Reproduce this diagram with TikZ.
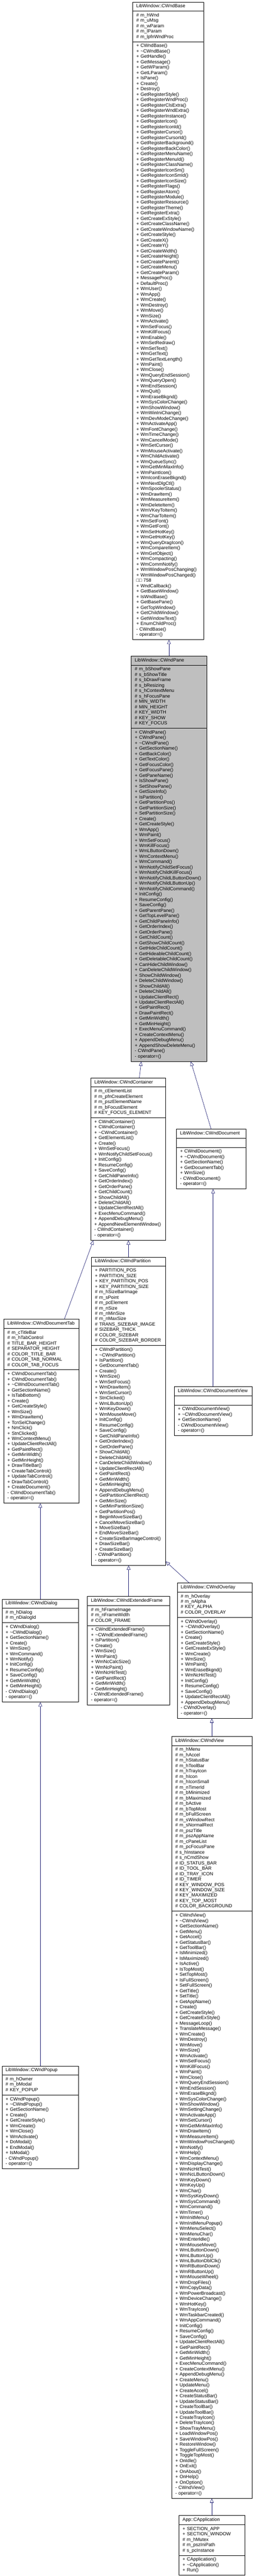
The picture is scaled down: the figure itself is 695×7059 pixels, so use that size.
\documentclass[tikz,border=0pt]{standalone}
\usepackage{fontspec}
\setmainfont{Liberation Sans}
\usetikzlibrary{shapes.multipart, arrows.meta, positioning}

\definecolor{edgeblue}{RGB}{25,25,112}
\definecolor{focusgray}{RGB}{191,191,191}

\tikzset{
  classbox/.style={rectangle split, rectangle split parts=3, draw=black, fill=white,
    anchor=west, align=left, inner xsep=10pt, inner ysep=4.6pt,
    font=\fontsize{12.8}{14.8}\selectfont, line width=0.9pt},
  focusbox/.style={classbox, fill=focusgray},
  inherit/.style={draw=edgeblue, line width=0.9pt, -{Triangle[open, length=12pt, width=10pt]}}
}

\begin{document}
\begin{tikzpicture}[x=1pt, y=-1pt]
  \useasboundingbox (0,0) rectangle (695,7059);

  % rank 1
  \node[classbox, text width=174pt] (base) at (363,879) {\centering\strut LibWindow::CWndBase\strut
    \nodepart{second}\strut\# m\_hWnd\\\# m\_uMsg\\\# m\_wParam\\\# m\_lParam\\\# m\_lpfnWndProc\strut
    \nodepart{third}\strut+ CWndBase()\\+ \textasciitilde CWndBase()\\+ GetHandle()\\+ GetMessage()\\+ GetWParam()\\+ GetLParam()\\+ IsPane()\\+ Create()\\+ Destroy()\\%
+ GetRegisterStyle()\\+ GetRegisterWndProc()\\+ GetRegisterClsExtra()\\+ GetRegisterWndExtra()\\+ GetRegisterInstance()\\+ GetRegisterIcon()\\+ GetRegisterIconId()\\+ GetRegisterCursor()\\+ GetRegisterCursorId()\\+ GetRegisterBackground()\\+ GetRegisterBackColor()\\+ GetRegisterMenuName()\\+ GetRegisterMenuId()\\+ GetRegisterClassName()\\+ GetRegisterIconSm()\\+ GetRegisterIconSmId()\\+ GetRegisterIconSize()\\+ GetRegisterFlags()\\+ GetRegisterAtom()\\+ GetRegisterModule()\\+ GetRegisterResource()\\+ GetRegisterTheme()\\+ GetRegisterExtra()\\%
+ GetCreateExStyle()\\+ GetCreateClassName()\\+ GetCreateWindowName()\\+ GetCreateStyle()\\+ GetCreateX()\\+ GetCreateY()\\+ GetCreateWidth()\\+ GetCreateHeight()\\+ GetCreateParent()\\+ GetCreateMenu()\\+ GetCreateParam()\\%
+ MessageProc()\\+ DefaultProc()\\+ WmUser()\\+ WmApp()\\+ WmCreate()\\+ WmDestroy()\\+ WmMove()\\+ WmSize()\\+ WmActivate()\\+ WmSetFocus()\\+ WmKillFocus()\\+ WmEnable()\\+ WmSetRedraw()\\+ WmSetText()\\+ WmGetText()\\+ WmGetTextLength()\\+ WmPaint()\\+ WmClose()\\+ WmQueryEndSession()\\+ WmQueryOpen()\\+ WmEndSession()\\+ WmQuit()\\+ WmEraseBkgnd()\\+ WmSysColorChange()\\+ WmShowWindow()\\+ WmWinIniChange()\\+ WmDevModeChange()\\+ WmActivateApp()\\+ WmFontChange()\\+ WmTimeChange()\\+ WmCancelMode()\\+ WmSetCursor()\\+ WmMouseActivate()\\+ WmChildActivate()\\%
+ WmQueueSync()\\+ WmGetMinMaxInfo()\\+ WmPaintIcon()\\+ WmIconEraseBkgnd()\\+ WmNextDlgCtl()\\+ WmSpoolerStatus()\\+ WmDrawItem()\\+ WmMeasureItem()\\+ WmDeleteItem()\\+ WmVKeyToItem()\\+ WmCharToItem()\\+ WmSetFont()\\+ WmGetFont()\\+ WmSetHotKey()\\+ WmGetHotKey()\\+ WmQueryDragIcon()\\+ WmCompareItem()\\+ WmGetObject()\\+ WmCompacting()\\+ WmCommNotify()\\+ WmWindowPosChanging()\\+ WmWindowPosChanged()\\%
□□ 758\\+ WndCallback()\\+ GetBaseWindow()\\+ IsWndBase()\\+ GetBasePane()\\+ GetTopWindow()\\+ GetChildWindow()\\+ GetWindowText()\\+ EnumChildProc()\\- CWndBase()\\- operator=()\strut};

  % rank 2: the class of this page
  \node[focusbox, text width=187pt] (pane) at (359,2353) {\centering\strut LibWindow::CWndPane\strut
    \nodepart{second}\strut\# m\_bShowPane\\\# s\_bShowTitle\\\# s\_bDrawFrame\\\# s\_bResizing\\\# s\_hContextMenu\\\# s\_hFocusPane\\\# MIN\_WIDTH\\\# MIN\_HEIGHT\\\# KEY\_WIDTH\\\# KEY\_SHOW\\\# KEY\_FOCUS\strut
    \nodepart{third}\strut+ CWndPane()\\+ CWndPane()\\+ \textasciitilde CWndPane()\\+ GetSectionName()\\+ GetBackColor()\\+ GetTextColor()\\+ GetFocusColor()\\+ GetFocusPane()\\+ GetPaneName()\\+ IsShowPane()\\+ SetShowPane()\\+ GetSizeInfo()\\+ IsPartition()\\+ GetPartitionPos()\\+ GetPartitionSize()\\+ SetPartitionSize()\\+ Create()\\+ GetCreateStyle()\\+ WmApp()\\+ WmPaint()\\%
+ WmSetFocus()\\+ WmKillFocus()\\+ WmLButtonDown()\\+ WmContextMenu()\\+ WmCommand()\\+ WmNotifyChildSetFocus()\\+ WmNotifyChildKillFocus()\\+ WmNotifyChildLButtonDown()\\+ WmNotifyChildLButtonUp()\\+ WmNotifyChildCommand()\\+ InitConfig()\\+ ResumeConfig()\\+ SaveConfig()\\+ GetParentPane()\\+ GetTopLevelPane()\\+ GetChildPaneInfo()\\+ GetOrderIndex()\\+ GetOrderPane()\\+ GetChildCount()\\+ GetShowChildCount()\\+ GetHideChildCount()\\+ GetHideableChildCount()\\+ GetDeletableChildCount()\\+ CanHideChildWindow()\\+ CanDeleteChildWindow()\\+ ShowChildWindow()\\+ DeleteChildWindow()\\+ ShowChildAll()\\+ DeleteChildAll()\\+ UpdateClientRect()\\+ UpdateClientRectAll()\\+ GetPaintRect()\\+ DrawPaintRect()\\+ GetMinWidth()\\+ GetMinHeight()\\+ ExecMenuCommand()\\+ CreateContextMenu()\\+ AppendDebugMenu()\\+ AppendShowDeleteMenu()\\- CWndPane()\\- operator=()\strut};

  % rank 3
  \node[classbox, text width=185pt] (container) at (248,3176) {\centering\strut LibWindow::CWndContainer\strut
    \nodepart{second}\strut\# m\_cElementList\\\# m\_pfnCreateElement\\\# m\_pszElementName\\\# m\_bFocusElement\\\# KEY\_FOCUS\_ELEMENT\strut
    \nodepart{third}\strut+ CWndContainer()\\+ CWndContainer()\\+ \textasciitilde CWndContainer()\\+ GetElementList()\\+ Create()\\+ WmSetFocus()\\+ WmNotifyChildSetFocus()\\+ InitConfig()\\+ ResumeConfig()\\+ SaveConfig()\\+ GetChildPaneInfo()\\+ GetOrderIndex()\\+ GetOrderPane()\\+ GetChildCount()\\+ ShowChildAll()\\+ DeleteChildAll()\\+ UpdateClientRectAll()\\+ ExecMenuCommand()\\+ AppendDebugMenu()\\+ AppendNewElementWindow()\\- CWndContainer()\\- operator=()\strut};

  \node[classbox, text width=170pt] (document) at (483,3176) {\centering\strut LibWindow::CWndDocument\strut
    \nodepart{second}\strut
    \nodepart{third}\strut+ CWndDocument()\\+ \textasciitilde CWndDocument()\\+ GetSectionName()\\+ GetDocumentTab()\\+ WmSize()\\- CWndDocument()\\- operator=()\strut};

  % rank 4
  \node[classbox, text width=186pt] (doctab) at (10,3867) {\centering\strut LibWindow::CWndDocumentTab\strut
    \nodepart{second}\strut\# m\_cTitleBar\\\# m\_hTabControl\\\# TITLE\_BAR\_HEIGHT\\\# SEPARATOR\_HEIGHT\\\# COLOR\_TITLE\_BAR\\\# COLOR\_TAB\_NORMAL\\\# COLOR\_TAB\_FOCUS\strut
    \nodepart{third}\strut+ CWndDocumentTab()\\+ CWndDocumentTab()\\+ \textasciitilde CWndDocumentTab()\\+ GetSectionName()\\+ IsTabBottom()\\+ Create()\\+ GetCreateStyle()\\+ WmSize()\\+ WmDrawItem()\\+ TcnSelChange()\\+ NmClick()\\+ StnClicked()\\+ WmContextMenu()\\+ UpdateClientRectAll()\\+ GetPaintRect()\\+ GetMinWidth()\\+ GetMinHeight()\\+ DrawTitleBar()\\+ CreateTabControl()\\+ UpdateTabControl()\\+ DrawTabControl()\\+ CreateDocument()\\- CWndDocumentTab()\\- operator=()\strut};

  \node[classbox, text width=183pt] (partition) at (250,3867) {\centering\strut LibWindow::CWndPartition\strut
    \nodepart{second}\strut+ PARTITION\_POS\\+ PARTITION\_SIZE\\+ KEY\_PARTITION\_POS\\+ KEY\_PARTITION\_SIZE\\\# m\_hSizeBarImage\\\# m\_sPoint\\\# m\_pcElement\\\# m\_nSize\\\# m\_nMinSize\\\# m\_nMaxSize\\\# TRANS\_SIZEBAR\_IMAGE\\\# SIZEBAR\_THICK\\\# COLOR\_SIZEBAR\\\# COLOR\_SIZEBAR\_BORDER\strut
    \nodepart{third}\strut+ CWndPartition()\\+ \textasciitilde CWndPartition()\\+ IsPartition()\\+ GetDocumentTab()\\+ Create()\\+ WmSize()\\+ WmSetFocus()\\+ WmDrawItem()\\+ WmSetCursor()\\+ StnClicked()\\+ WmLButtonUp()\\+ WmKeyDown()\\+ WmMouseMove()\\+ InitConfig()\\+ ResumeConfig()\\+ SaveConfig()\\+ GetChildPaneInfo()\\+ GetOrderIndex()\\+ GetOrderPane()\\+ ShowChildAll()\\+ DeleteChildAll()\\+ CanDeleteChildWindow()\\+ UpdateClientRectAll()\\+ GetPaintRect()\\+ GetMinWidth()\\+ GetMinHeight()\\+ AppendDebugMenu()\\+ GetPartitionClientRect()\\+ GetMinSize()\\+ GetMinPartitionSize()\\+ GetPartitionPos()\\+ BeginMoveSizeBar()\\+ CancelMoveSizeBar()\\+ MoveSizeBar()\\+ EndMoveSizeBar()\\+ CreateSizeBarImageControl()\\+ DrawSizeBar()\\+ CreateSizeBar()\\- CWndPartition()\\- operator=()\strut};

  \node[classbox, text width=193pt] (docview) at (477,3867) {\centering\strut LibWindow::CWndDocumentView\strut
    \nodepart{second}\strut
    \nodepart{third}\strut+ CWndDocumentView()\\+ \textasciitilde CWndDocumentView()\\+ GetSectionName()\\- CWndDocumentView()\\- operator=()\strut};

  % rank 5
  \node[classbox, text width=190pt] (dialog) at (5,4523) {\centering\strut LibWindow::CWndDialog\strut
    \nodepart{second}\strut\# m\_hDialog\\\# m\_nDialogId\strut
    \nodepart{third}\strut+ CWndDialog()\\+ \textasciitilde CWndDialog()\\+ GetSectionName()\\+ Create()\\+ WmSize()\\+ WmCommand()\\+ WmNotify()\\+ InitConfig()\\+ ResumeConfig()\\+ SaveConfig()\\+ GetMinWidth()\\+ GetMinHeight()\\- CWndDialog()\\- operator=()\strut};

  \node[classbox, text width=206pt] (extframe) at (239,4523) {\centering\strut LibWindow::CWndExtendedFrame\strut
    \nodepart{second}\strut\# m\_hFrameImage\\\# m\_nFrameWidth\\\# COLOR\_FRAME\strut
    \nodepart{third}\strut+ CWndExtendedFrame()\\+ \textasciitilde CWndExtendedFrame()\\+ IsPartition()\\+ Create()\\+ WmSize()\\+ WmPaint()\\+ WmNcCalcSize()\\+ WmNcPaint()\\+ WmNcHitTest()\\+ GetPaintRect()\\+ GetMinWidth()\\+ GetMinHeight()\\- CWndExtendedFrame()\\- operator=()\strut};

  \node[classbox, text width=185pt] (overlay) at (485,4523) {\centering\strut LibWindow::CWndOverlay\strut
    \nodepart{second}\strut\# m\_hOverlay\\\# m\_nAlpha\\\# KEY\_ALPHA\\\# COLOR\_OVERLAY\strut
    \nodepart{third}\strut+ CWndOverlay()\\+ \textasciitilde CWndOverlay()\\+ GetSectionName()\\+ Create()\\+ GetCreateStyle()\\+ GetCreateExStyle()\\+ WmCreate()\\+ WmSize()\\+ WmPaint()\\+ WmEraseBkgnd()\\+ WmNcHitTest()\\+ InitConfig()\\+ ResumeConfig()\\+ SaveConfig()\\+ UpdateClientRectAll()\\+ AppendDebugMenu()\\- CWndOverlay()\\- operator=()\strut};

  % rank 6
  \node[classbox, text width=190pt] (popup) at (5,5802) {\centering\strut LibWindow::CWndPopup\strut
    \nodepart{second}\strut\# m\_hOwner\\\# m\_bModal\\\# KEY\_POPUP\strut
    \nodepart{third}\strut+ CWndPopup()\\+ \textasciitilde CWndPopup()\\+ GetSectionName()\\+ Create()\\+ GetCreateStyle()\\+ WmCreate()\\+ WmClose()\\+ WmActivate()\\+ DoModal()\\+ EndModal()\\+ IsModal()\\- CWndPopup()\\- operator=()\strut};

  \node[classbox, text width=200pt] (view) at (470,5802) {\centering\strut LibWindow::CWndView\strut
    \nodepart{second}\strut\# m\_hMenu\\\# m\_hAccel\\\# m\_hStatusBar\\\# m\_hToolBar\\\# m\_hTrayIcon\\\# m\_hIcon\\\# m\_hIconSmall\\\# m\_nTimerId\\\# m\_bMinimized\\\# m\_bMaximized\\\# m\_bActive\\\# m\_bTopMost\\\# m\_bFullScreen\\\# m\_sWindowRect\\\# m\_sNormalRect\\\# m\_pszTitle\\\# m\_pszAppName\\\# m\_cPaneList\\\# m\_pcFocusPane\\\# s\_hInstance\\\# s\_nCmdShow\\\# ID\_STATUS\_BAR\\\# ID\_TOOL\_BAR\\\# ID\_TRAY\_ICON\\\# ID\_TIMER\\\# KEY\_WINDOW\_POS\\\# KEY\_WINDOW\_SIZE\\\# KEY\_MAXIMIZED\\\# KEY\_TOP\_MOST\\\# COLOR\_BACKGROUND\strut
    \nodepart{third}\strut+ CWndView()\\+ \textasciitilde CWndView()\\+ GetSectionName()\\+ GetMenu()\\+ GetAccel()\\+ GetStatusBar()\\+ GetToolBar()\\+ IsMinimized()\\+ IsMaximized()\\+ IsActive()\\+ IsTopMost()\\+ SetTopMost()\\+ IsFullScreen()\\+ SetFullScreen()\\+ GetTitle()\\+ SetTitle()\\+ GetAppName()\\+ Create()\\+ GetCreateStyle()\\+ GetCreateExStyle()\\+ MessageLoop()\\+ TranslateMessage()\\%
+ WmCreate()\\+ WmDestroy()\\+ WmMove()\\+ WmSize()\\+ WmActivate()\\+ WmSetFocus()\\+ WmKillFocus()\\+ WmPaint()\\+ WmClose()\\+ WmQueryEndSession()\\+ WmEndSession()\\+ WmEraseBkgnd()\\+ WmSysColorChange()\\+ WmShowWindow()\\+ WmSettingChange()\\+ WmActivateApp()\\+ WmSetCursor()\\+ WmGetMinMaxInfo()\\+ WmDrawItem()\\+ WmMeasureItem()\\+ WmWindowPosChanged()\\+ WmNotify()\\+ WmHelp()\\+ WmContextMenu()\\+ WmDisplayChange()\\+ WmNcHitTest()\\+ WmNcLButtonDown()\\+ WmKeyDown()\\+ WmKeyUp()\\+ WmChar()\\+ WmSysKeyDown()\\+ WmSysCommand()\\+ WmCommand()\\+ WmTimer()\\+ WmInitMenu()\\+ WmInitMenuPopup()\\+ WmMenuSelect()\\+ WmMenuChar()\\+ WmEnterIdle()\\+ WmMouseMove()\\+ WmLButtonDown()\\+ WmLButtonUp()\\+ WmLButtonDblClk()\\+ WmRButtonDown()\\+ WmRButtonUp()\\+ WmMouseWheel()\\+ WmDropFiles()\\+ WmCopyData()\\+ WmPowerBroadcast()\\+ WmDeviceChange()\\+ WmHotKey()\\+ WmTrayIcon()\\+ WmTaskbarCreated()\\+ WmAppCommand()\\%
+ InitConfig()\\+ ResumeConfig()\\+ SaveConfig()\\+ UpdateClientRectAll()\\+ GetPaintRect()\\+ GetMinWidth()\\+ GetMinHeight()\\+ ExecMenuCommand()\\+ CreateContextMenu()\\+ AppendDebugMenu()\\+ CreateMenu()\\+ UpdateMenu()\\+ CreateAccel()\\+ CreateStatusBar()\\+ UpdateStatusBar()\\+ CreateToolBar()\\+ UpdateToolBar()\\+ CreateTrayIcon()\\+ DeleteTrayIcon()\\+ ShowTrayMenu()\\+ LoadWindowPos()\\+ SaveWindowPos()\\+ RestoreWindow()\\+ ToggleFullScreen()\\+ ToggleTopMost()\\+ OnIdle()\\+ OnExit()\\+ OnAbout()\\+ OnHelp()\\+ OnOption()\\- CWndView()\\- operator=()\strut};

  % rank 7
  \node[classbox, text width=160pt] (app) at (490,6975) {\centering\strut App::CApplication\strut
    \nodepart{second}\strut+ SECTION\_APP\\+ SECTION\_WINDOW\\\# m\_hMutex\\\# m\_pszIniPath\\\# s\_pcInstance\strut
    \nodepart{third}\strut+ CApplication()\\+ \textasciitilde CApplication()\\+ Run()\strut};

  % inheritance
  \draw[inherit] (pane.north) -- (pane.north |- base.south);
  \draw[inherit] ([xshift=31pt]container.north) -- ([xshift=-76pt]pane.south);
  \draw[inherit] (document.north) -- ([xshift=60pt]pane.south);
  \draw[inherit] ([xshift=63pt]doctab.north) -- ([xshift=-95pt]container.south);
  \draw[inherit] (partition.north) -- (partition.north |- container.south);
  \draw[inherit] (docview.north) -- (docview.north |- document.south);
  \draw[inherit] (dialog.north) -- (dialog.north |- doctab.south);
  \draw[inherit] (extframe.north) -- (extframe.north |- partition.south);
  \draw[inherit] ([xshift=-70pt]overlay.north) -- ([yshift=11pt]partition.south east);
  \draw[inherit] (popup.north) -- (popup.north |- dialog.south);
  \draw[inherit] (view.north) -- (view.north |- overlay.south);
  \draw[inherit] (app.north) -- (app.north |- view.south);
\end{tikzpicture}
\end{document}
